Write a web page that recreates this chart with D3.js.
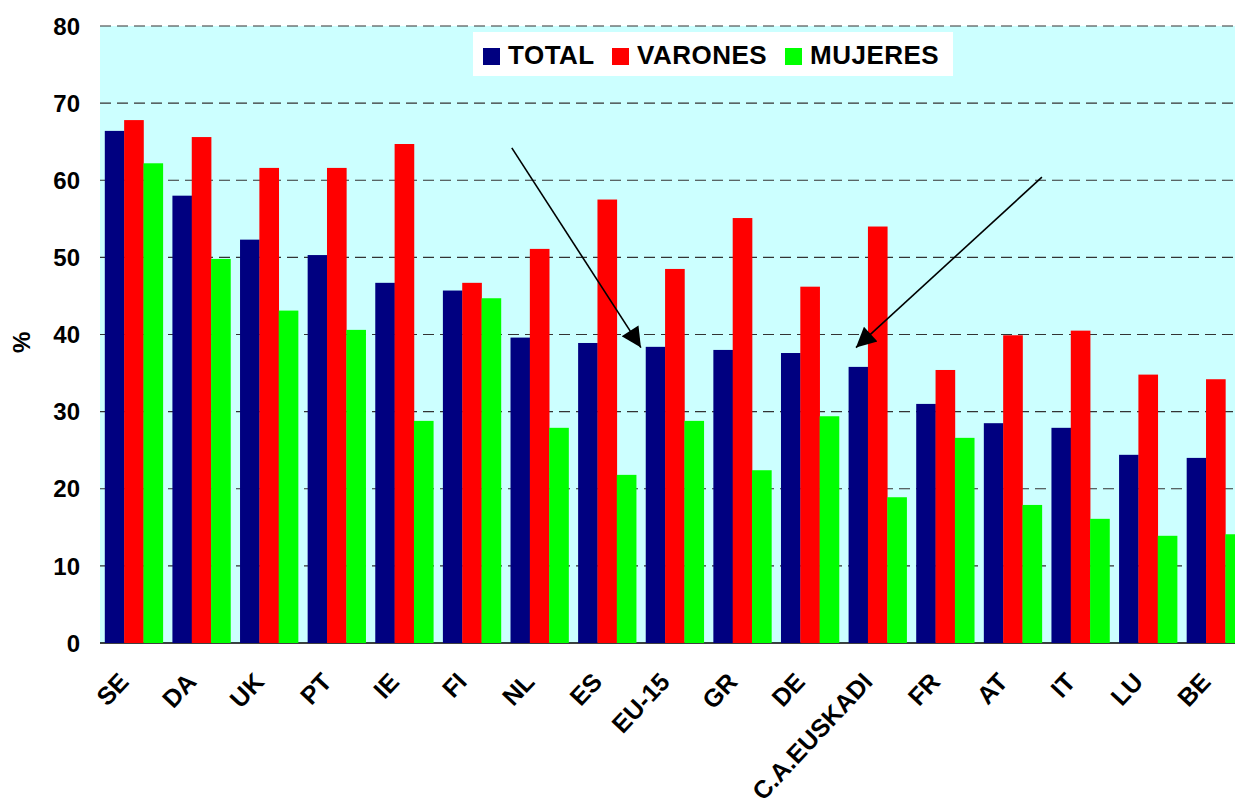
<!DOCTYPE html>
<html>
<head>
<meta charset="utf-8">
<script src="https://cdn.jsdelivr.net/npm/d3@7"></script>
<style>
  body { margin: 0; background: #fff; }
  text { font-family: Arial, "Liberation Sans", sans-serif; font-weight: bold; }
</style>
</head>
<body>
<div id="chart"></div>
<script>
// Tasa por pais, total / varones / mujeres (%)
var paises = ["SE", "DA", "UK", "PT", "IE", "FI", "NL", "ES", "EU-15", "GR", "DE",
              "C.A.EUSKADI", "FR", "AT", "IT", "LU", "BE"];
var total   = [66.4, 58.0, 52.3, 50.3, 46.7, 45.7, 39.6, 38.9, 38.4, 38.0, 37.6, 35.8, 31.0, 28.5, 27.9, 24.4, 24.0];
var varones = [67.8, 65.6, 61.6, 61.6, 64.7, 46.7, 51.1, 57.5, 48.5, 55.1, 46.2, 54.0, 35.4, 39.9, 40.5, 34.8, 34.2];
var mujeres = [62.2, 49.8, 43.1, 40.6, 28.8, 44.7, 27.9, 21.8, 28.8, 22.4, 29.4, 18.9, 26.6, 17.9, 16.1, 13.9, 14.1];

var series = ["TOTAL", "VARONES", "MUJERES"];
var colores = ["#000080", "#ff0000", "#00ff00"];
var yTicks = [0, 10, 20, 30, 40, 50, 60, 70, 80];

// arrows: [category position, value] -> [category position, value]
var flechas = [
  {from: [6.09, 64.2], to: [8.0, 38.3]},
  {from: [13.93, 60.4], to: [11.18, 38.3]}
];

var W = 1235, H = 801;
var pLeft = 100, pTop = 26, pBottom = 643, pRight = 1249.5;

var svg = d3.select("#chart").append("svg")
    .attr("width", W)
    .attr("height", H);

var x = d3.scaleBand()
    .domain(paises)
    .range([pLeft, pRight])
    .paddingInner(0.142)
    .paddingOuter(0.071);

var xs = d3.scaleBand()
    .domain(series)
    .range([0, x.bandwidth()]);

var xPos = d3.scaleLinear().domain([0, paises.length]).range([pLeft, pRight]);

var y = d3.scaleLinear()
    .domain([0, 80])
    .range([pBottom, pTop]);

var color = d3.scaleOrdinal().domain(series).range(colores);

// plot background
svg.append("rect")
    .attr("x", pLeft).attr("y", pTop)
    .attr("width", pRight - pLeft).attr("height", pBottom - pTop)
    .attr("fill", "#ccffff");

// grid lines
svg.append("g").selectAll("line")
    .data(yTicks.filter(function(d){ return d > 0; }))
  .enter().append("line")
    .attr("x1", pLeft).attr("x2", W)
    .attr("y1", function(d){ return y(d); })
    .attr("y2", function(d){ return y(d); })
    .attr("stroke", "#333")
    .attr("stroke-width", 1.2)
    .attr("stroke-dasharray", "11,6");

// x axis line
svg.append("line")
    .attr("x1", pLeft).attr("x2", W)
    .attr("y1", y(0)).attr("y2", y(0))
    .attr("stroke", "#000")
    .attr("stroke-width", 1.5);

// y tick labels
svg.append("g").selectAll("text")
    .data(yTicks)
  .enter().append("text")
    .attr("x", 80)
    .attr("y", function(d){ return y(d); })
    .attr("dy", "0.36em")
    .attr("text-anchor", "end")
    .attr("font-size", 24)
    .text(function(d){ return d; });

svg.append("text")
    .attr("transform", "translate(30," + y(39) + ") rotate(-90)")
    .attr("text-anchor", "middle")
    .attr("font-size", 24)
    .text("%");

// bars
var datos = paises.map(function(p, i){
  return {pais: p, valores: [total[i], varones[i], mujeres[i]]};
});

var grupos = svg.append("g").selectAll("g")
    .data(datos)
  .enter().append("g")
    .attr("transform", function(d){ return "translate(" + x(d.pais) + ",0)"; });

grupos.selectAll("rect")
    .data(function(d){ return d.valores.map(function(v, j){ return {s: series[j], v: v}; }); })
  .enter().append("rect")
    .attr("x", function(d){ return xs(d.s); })
    .attr("width", xs.bandwidth() + 0.3)
    .attr("y", function(d){ return y(d.v); })
    .attr("height", function(d){ return y(0) - y(d.v); })
    .attr("fill", function(d){ return color(d.s); });

// x labels
svg.append("g").selectAll("text")
    .data(paises)
  .enter().append("text")
    .attr("transform", function(d){
      return "translate(" + (x(d) + x.bandwidth() / 2 - 10) + "," + 677 + ") rotate(-47)";
    })
    .attr("text-anchor", "end")
    .attr("dy", "0.35em")
    .attr("font-size", 25)
    .text(function(d){ return d; });

// arrows
svg.append("defs").append("marker")
    .attr("id", "punta")
    .attr("viewBox", "0 0 10 10")
    .attr("refX", 10).attr("refY", 5)
    .attr("markerUnits", "userSpaceOnUse")
    .attr("markerWidth", 24).attr("markerHeight", 20)
    .attr("orient", "auto")
  .append("path")
    .attr("d", "M0,0 L10,5 L0,10 Z")
    .attr("fill", "#000");

svg.append("g").selectAll("line")
    .data(flechas)
  .enter().append("line")
    .attr("x1", function(d){ return xPos(d.from[0]); })
    .attr("y1", function(d){ return y(d.from[1]); })
    .attr("x2", function(d){ return xPos(d.to[0]); })
    .attr("y2", function(d){ return y(d.to[1]); })
    .attr("stroke", "#000")
    .attr("stroke-width", 1.6)
    .attr("marker-end", "url(#punta)");

// legend
var leg = svg.append("g").attr("transform", "translate(473,32)");
leg.append("rect")
    .attr("width", 480).attr("height", 44)
    .attr("fill", "#fff");

var legX = [10, 139, 312];
var item = leg.selectAll("g.item")
    .data(series)
  .enter().append("g")
    .attr("class", "item")
    .attr("transform", function(d, i){ return "translate(" + legX[i] + ",0)"; });

item.append("rect")
    .attr("y", 16).attr("width", 17).attr("height", 17)
    .attr("fill", function(d){ return color(d); });

item.append("text")
    .attr("x", 25).attr("y", 32)
    .attr("font-size", 26)
    .attr("letter-spacing", 0.5)
    .text(function(d){ return d; });
</script>
</body>
</html>
